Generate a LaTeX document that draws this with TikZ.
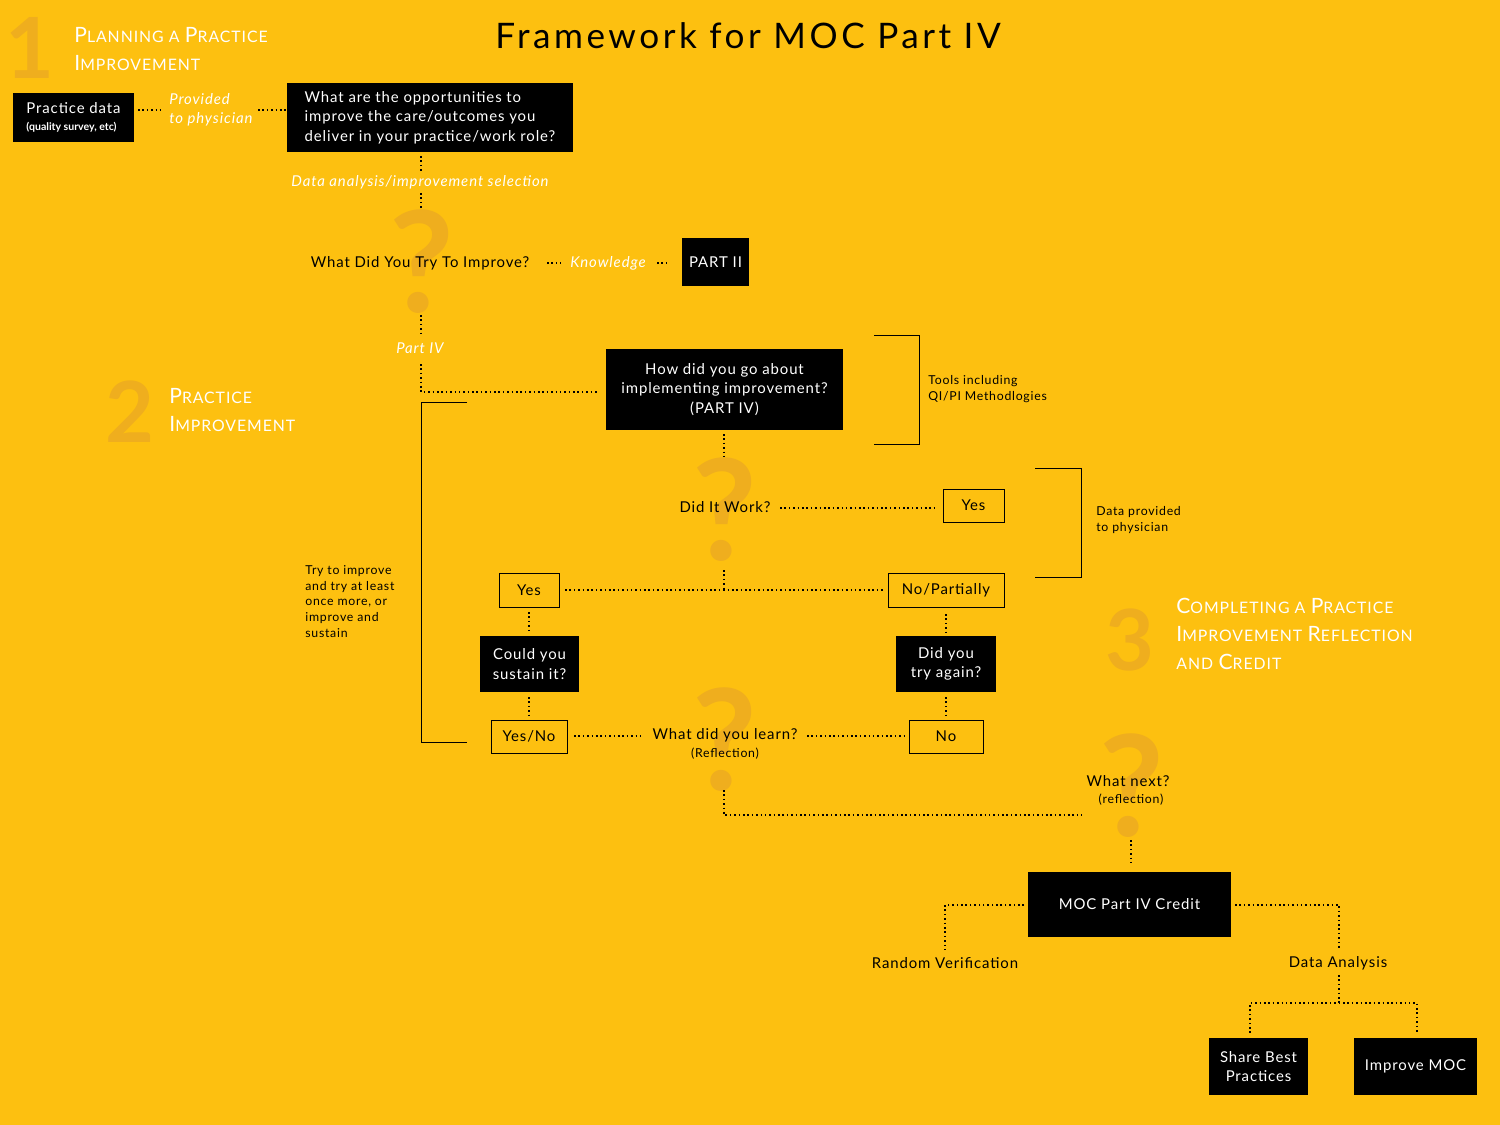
\documentclass[tikz,border=0pt]{standalone}
\usepackage{fontspec}
\usetikzlibrary{calc}
\setmainfont{Lato}[LetterSpace=6]
\definecolor{bg}{HTML}{FDC010}
\definecolor{dk}{HTML}{EFAE1E}
\newcommand{\hsc}[2]{{\fontsize{12}{14}\selectfont #1}{\fontsize{9}{14}\selectfont #2}}
\begin{document}
\begin{tikzpicture}[x=0.02cm,y=-0.02cm,
 txt/.style={font=\fontsize{8.5}{10.5}\selectfont,inner sep=0pt},
 wit/.style={txt,text=white,font=\fontsize{8.5}{10.5}\selectfont\itshape},
 sm/.style={inner sep=0pt,font=\fontsize{7}{9}\selectfont,align=left},
 bb/.style={fill=black,text=white,inner sep=0pt,align=center,font=\fontsize{8.5}{11}\selectfont},
 ob/.style={draw=black,line width=0.5pt,inner sep=0pt,font=\fontsize{8.5}{11}\selectfont},
 dt/.style={line width=0.9pt,dash pattern=on 0.9pt off 1.6pt},
 big/.style={text=dk,font=\bfseries\fontsize{48}{48}\selectfont,inner sep=0pt},
 q/.style={text=dk,font=\bfseries\fontsize{80}{80}\selectfont,inner sep=0pt},
 hd/.style={text=white,anchor=west,align=left,inner sep=0pt}]
\fill[bg] (0,0) rectangle (1500,1125);
\useasboundingbox (0,0) rectangle (1500,1125);
% big marks
\node[big] (n1) at (30,48) {1};
\node[big] (n2) at (130,412) {2};
\node[big] (n3) at (1130,640) {3};
\node[q] (q1) at (422,262) {?};
\node[q] (q2) at (725,510) {?};
\node[q] (q3) at (725,740) {?};
\node[q] (q4) at (1132,786) {?};
\node[text=black,font=\fontsize{20}{24}\selectfont\addfontfeatures{LetterSpace=10},inner sep=0pt] (title) at (748,36) {Framework for MOC Part IV};
\node[hd] (h1) at (74,49) {\hsc{P}{LANNING A} \hsc{P}{RACTICE}\\[4pt]\hsc{I}{MPROVEMENT}};
\node[hd] (h2) at (169,410) {\hsc{P}{RACTICE}\\[4pt]\hsc{I}{MPROVEMENT}};
\node[hd] (h3) at (1176,634) {\hsc{C}{OMPLETING A} \hsc{P}{RACTICE}\\[4pt]\hsc{I}{MPROVEMENT} \hsc{R}{EFLECTION}\\[4pt]{\fontsize{9}{14}\selectfont AND} \hsc{C}{REDIT}};
% section 1
\node[bb,minimum width=2.42cm,minimum height=0.98cm,align=left] (pd) at (73.5,117.5) {Practice data\\[-1pt]{\bfseries\fontsize{6}{7}\selectfont\addfontfeatures{LetterSpace=0}(quality survey, etc)}};
\node[wit,align=left,anchor=west] (prov) at (169,110) {Provided\\to physician};
\node[bb,minimum width=5.72cm,minimum height=1.38cm,align=left] (opp) at (430,117.5) {What are the opportunities to\\improve the care/outcomes you\\deliver in your practice/work role?};
\draw[dt] (138,110) -- (160,110);
\draw[dt] (258,110) coordinate (a3) -- (opp.west|-a3);
\node[wit] (dai) at (420,182) {Data analysis/improvement selection};
\draw[dt] (421,156) -- (421,172);
\draw[dt] (421,193) -- (421,208);
\node[txt] (wdy) at (420,263) {What Did You Try To Improve?};
\node[wit] (kn) at (608,263) {Knowledge};
\node[bb,minimum width=1.34cm,minimum height=0.96cm] (p2) at (715.5,262) {PART II};
\draw[dt] (547,263) -- (561,263);
\draw[dt] (657,263) -- (670,263);
\draw[dt] (421,315) -- (421,336);
\node[wit] (p4) at (420,348) {Part IV};
\draw[dt] (421,364) -- (421,392) -- (598,392);
% section 2
\node[bb,minimum width=4.74cm,minimum height=1.62cm] (how) at (724.5,389.5) {How did you go about\\implementing improvement?\\(PART IV)};
\draw (874,335) -- (919,335) -- (919,444) -- (874,444);
\node[sm,anchor=west] (tools) at (928,389) {Tools including\\QI/PI Methodlogies};
\draw[dt] (724,434) -- (724,457);
\node[txt] (diw) at (725,507) {Did It Work?};
\node[ob,minimum width=1.22cm,minimum height=0.66cm] (y1) at (973.5,505.5) {Yes};
\draw[dt] (780,508) -- (938,508);
\draw (1035,468) -- (1081,468) -- (1081,577) -- (1035,577);
\node[sm,anchor=west] (dp) at (1096,520) {Data provided\\to physician};
\draw[dt] (724,570) -- (724,590);
\node[ob,minimum width=1.2cm,minimum height=0.68cm] (y2) at (529,590) {Yes};
\node[ob,minimum width=2.32cm,minimum height=0.68cm] (np) at (946,590) {No/Partially};
\draw[dt] (565,590) -- (884,590);
\node[bb,minimum width=1.98cm,minimum height=1.12cm] (cys) at (529.5,664) {Could you\\sustain it?};
\node[bb,minimum width=2cm,minimum height=1.12cm] (dya) at (946,664) {Did you\\try again?};
\draw[dt] (529,612) -- (529,632);
\draw[dt] (946,614) -- (946,632);
\node[ob,minimum width=1.52cm,minimum height=0.66cm] (yn) at (529,736.5) {Yes/No};
\node[ob,minimum width=1.48cm,minimum height=0.66cm] (no) at (946,736.5) {No};
\draw[dt] (529,697) -- (529,715);
\draw[dt] (946,697) -- (946,715);
\draw (467,402) -- (421,402) -- (421,742) -- (467,742);
\node[sm,anchor=north west] (try) at (305,565) {Try to improve\\and try at least\\once more, or\\improve and\\sustain};
\node[txt] (wdl) at (725,735) {What did you learn?};
\node[sm] (refl) at (725,754) {(Reflection)};
\draw[dt] (574,736) -- (644,736);
\draw[dt] (807,736) -- (904,736);
% section 3
\draw[dt] (724,790) -- (724,815) -- (1082,815);
\node[txt] (wn) at (1128,781) {What next?};
\node[sm] (refl2) at (1131,800) {(reflection)};
\draw[dt] (1131,840) -- (1131,862);
\node[bb,minimum width=4.06cm,minimum height=1.3cm] (moc) at (1129.5,904.5) {MOC Part IV Credit};
\node[txt] (rv) at (945,963) {Random Verification};
\node[txt] (da) at (1338,963) {Data Analysis};
\draw[dt] (1024,905) -- (945,905) -- (945,950);
\draw[dt] (1235,905) -- (1339,905) -- (1339,950);
\draw[dt] (1339,975) -- (1339,1003);
\draw[dt] (1250,1033) -- (1250,1003) -- (1417,1003) -- (1417,1033);
\node[bb,minimum width=1.98cm,minimum height=1.14cm] (sbp) at (1258.5,1066.5) {Share Best\\Practices};
\node[bb,minimum width=2.46cm,minimum height=1.14cm] (imp) at (1415.5,1066.5) {Improve MOC};
\end{tikzpicture}
\end{document}
